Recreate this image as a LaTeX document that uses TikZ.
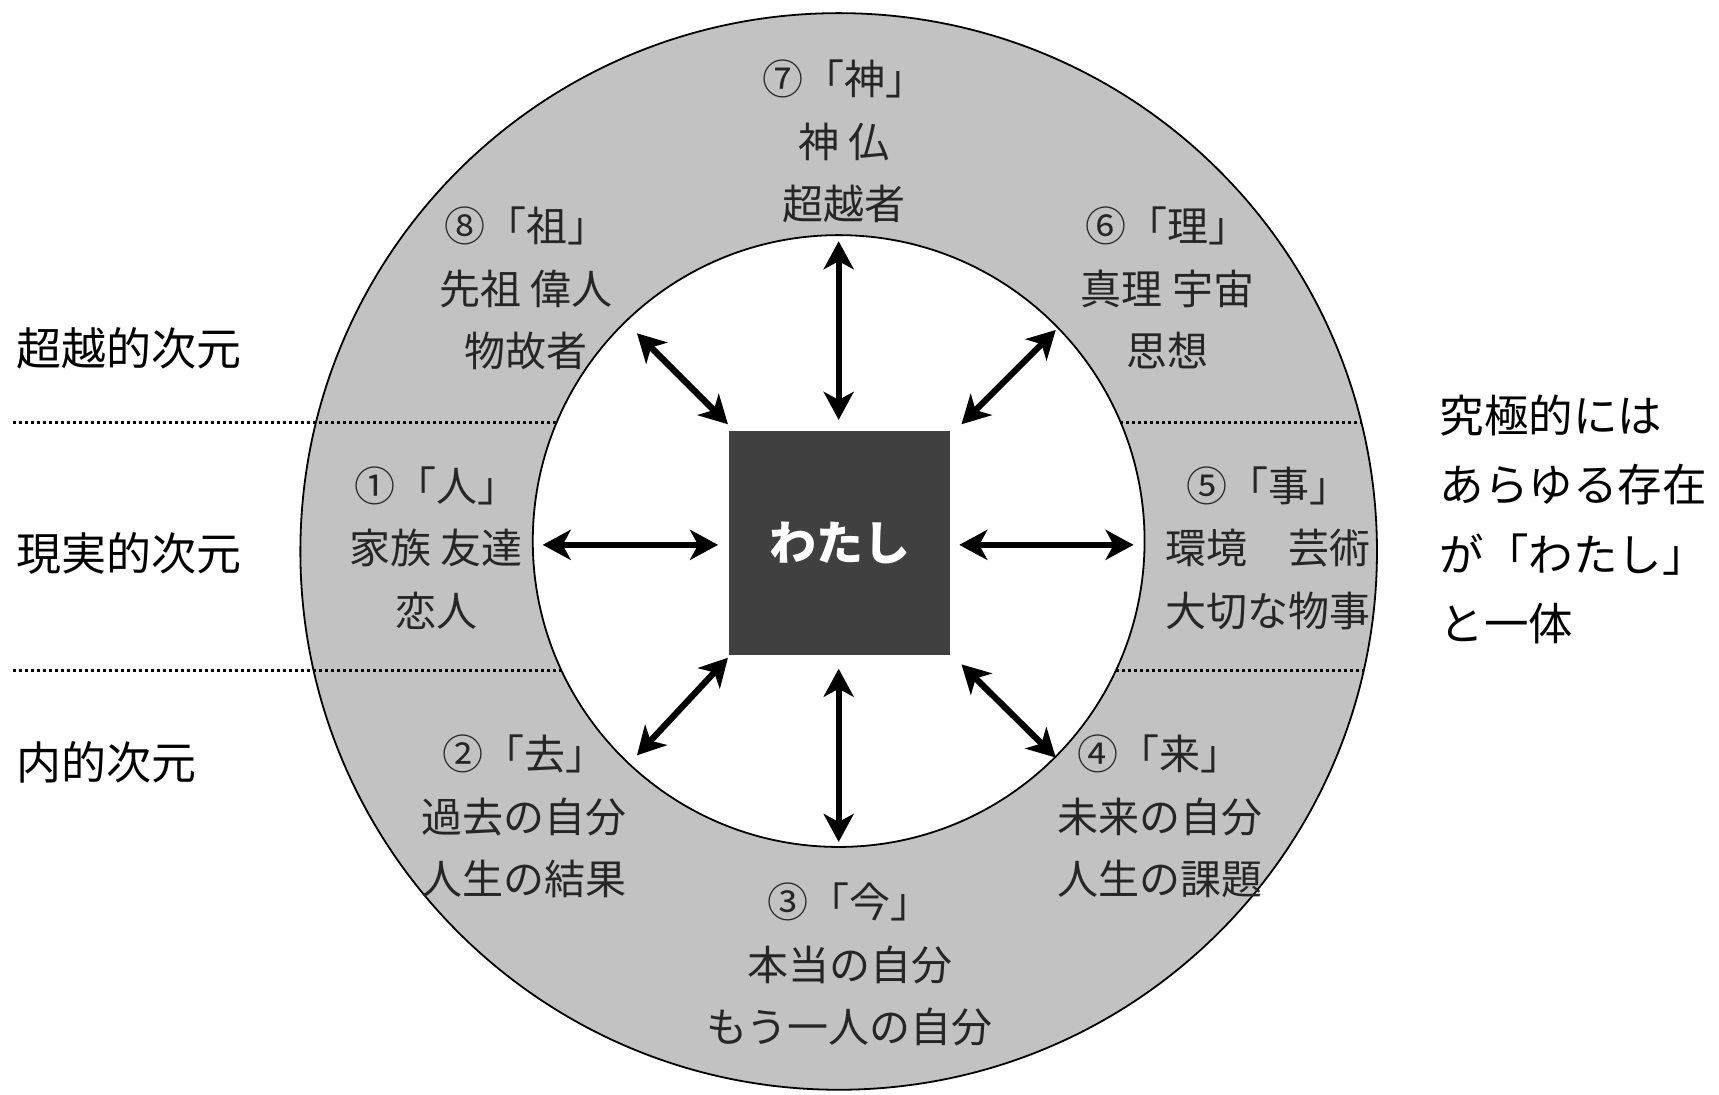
\documentclass[tikz,border=0pt]{standalone}
\usepackage{fontspec}
\setmainfont{Noto Sans CJK JP}
\usetikzlibrary{arrows.meta}
\definecolor{ringgray}{HTML}{C2C2C2}
\definecolor{boxgray}{HTML}{404040}
\tikzset{
  ringtxt/.style={font=\fontsize{41}{62.5}\selectfont, align=center, inner sep=0pt, text=black!85},
  dimtxt/.style={font=\fontsize{45}{50}\selectfont, anchor=west, inner sep=0pt},
  bothtip/.style={line width=6.3pt, {Stealth[length=28pt,width=30pt,inset=8pt]}-{Stealth[length=28pt,width=30pt,inset=8pt]}},
  sepline/.style={line width=3pt, dash pattern=on 3pt off 3pt},
  circline/.style={line width=1.8pt}
}
\begin{document}
\begin{tikzpicture}[x=1.0963pt,y=-1.0963pt]
\useasboundingbox (0,0) rectangle (1568,998);
\fill[white] (0,0) rectangle (1568,998);
% rings
\coordinate (O) at (765,503);
\coordinate (I) at (765,493.5);
\fill[ringgray, even odd rule] (O) circle[radius=538.3pt] (I) circle[radius=305.9pt];
\draw[circline] (O) circle[radius=538.3pt];
\draw[circline] (I) circle[radius=305.9pt];
% separator lines
\coordinate (la1) at (12,385);   \coordinate (lb1) at (508,385);
\coordinate (la2) at (12,612);   \coordinate (lb2) at (512,612);
\coordinate (ra1) at (1022,385); \coordinate (rb1) at (1241,385);
\coordinate (ra2) at (1018,612); \coordinate (rb2) at (1243,612);
\draw[sepline] (la1) -- (lb1);
\draw[sepline] (la2) -- (lb2);
\draw[sepline] (ra1) -- (rb1);
\draw[sepline] (ra2) -- (rb2);
% centre box
\node[fill=boxgray, minimum width=221pt, minimum height=224pt, inner sep=0pt,
      text=white, font=\fontsize{47}{50}\selectfont\bfseries] (me) at (766,495) {わたし};
% arrow ends
\coordinate (qT) at (765,383);  \coordinate (pT) at (765,220);
\coordinate (qB) at (765,610);  \coordinate (pB) at (765,768);
\coordinate (qL) at (655,497);  \coordinate (pL) at (495,497);
\coordinate (qR) at (875,497);  \coordinate (pR) at (1034,497);
\coordinate (qUL) at (664,387); \coordinate (pUL) at (581,304);
\coordinate (qUR) at (877,387); \coordinate (pUR) at (963,301);
\coordinate (qLL) at (664,600); \coordinate (pLL) at (581,689);
\coordinate (qLR) at (877,606); \coordinate (pLR) at (963,691);
\draw[bothtip] (qT) -- (pT);
\draw[bothtip] (qB) -- (pB);
\draw[bothtip] (qL) -- (pL);
\draw[bothtip] (qR) -- (pR);
\draw[bothtip] (qUL) -- (pUL);
\draw[bothtip] (qUR) -- (pUR);
\draw[bothtip] (qLL) -- (pLL);
\draw[bothtip] (qLR) -- (pLR);
% ring texts
\node[ringtxt] (n7) at (770,129) {⑦「神」\\神 仏\\超越者};
\node[ringtxt] (n8) at (480,263) {⑧「祖」\\先祖 偉人\\物故者};
\node[ringtxt] (n6) at (1065,263) {⑥「理」\\真理 宇宙\\思想};
\node[ringtxt] (n1) at (398,500) {①「人」\\家族 友達\\恋人};
\node[ringtxt] (n5) at (1157,500) {⑤「事」\\環境　芸術\\大切な物事};
\node[ringtxt] (n2) at (478,745) {②「去」\\過去の自分\\人生の結果};
\node[ringtxt] (n4) at (1058,745) {④「来」\\未来の自分\\人生の課題};
\node[ringtxt] (n3) at (775,880) {③「今」\\本当の自分\\もう一人の自分};
% dimension labels
\node[dimtxt] (d1) at (15,318) {超越的次元};
\node[dimtxt] (d2) at (15,505) {現実的次元};
\node[dimtxt] (d3) at (15,695) {内的次元};
% right remark
\node[font=\fontsize{44.5}{69.5}\selectfont, align=left, anchor=north west, inner sep=0pt] (rem) at (1313,360)
  {究極的には\\あらゆる存在\\が「わたし」\\と一体};
\end{tikzpicture}
\end{document}
